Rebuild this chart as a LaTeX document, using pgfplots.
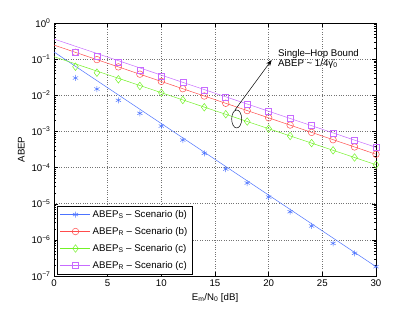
\documentclass[border=0pt]{standalone}
\usepackage{pgfplots}
\pgfplotsset{compat=1.18}
\usepackage{fontspec}
\setmainfont{Liberation Sans}
\usetikzlibrary{arrows.meta}
\definecolor{cB}{rgb}{0.30,0.45,1.00}
\definecolor{cR}{rgb}{1.00,0.30,0.30}
\definecolor{cG}{rgb}{0.45,0.95,0.15}
\definecolor{cP}{rgb}{0.78,0.42,1.00}
\begin{document}
\begin{tikzpicture}[font=\fontsize{9.7}{11}\selectfont]
\begin{semilogyaxis}[
  scale only axis, width=322bp, height=253bp,
  xmin=0, xmax=30, ymin=1e-7, ymax=1,
  xtick={0,5,10,15,20,25,30},
  xticklabel style={/pgf/number format/assume math mode=true},
  ytick={1e-7,1e-6,1e-5,1e-4,1e-3,1e-2,1e-1,1},
  yticklabels={10\textsuperscript{−7},10\textsuperscript{−6},10\textsuperscript{−5},10\textsuperscript{−4},10\textsuperscript{−3},10\textsuperscript{−2},10\textsuperscript{−1},10\textsuperscript{0}},
  grid=major,
  major grid style={dotted, black!55, line width=0.5pt},
  tick style={black, line width=0.4pt},
  major tick length=4bp, minor tick length=2bp,
  axis line style={line width=0.5pt},
  xlabel={E\textsubscript{m}/N\textsubscript{0} [dB]},
  ylabel={ABEP},
  legend cell align=left,
  legend style={at={(0,0)}, anchor=south west, xshift=3bp, yshift=2bp,
    draw=black, line width=0.5pt, fill=white, inner xsep=3bp, inner ysep=2bp,
    row sep=4.5bp, font=\fontsize{9.7}{11}\selectfont},
  legend image code/.code={\draw[mark repeat=2,mark phase=2,#1] plot coordinates {(0bp,0bp)(15bp,0bp)(30bp,0bp)};},
]
% theory lines (legend carries marker)
\addplot[cB, line width=0.5pt, mark=asterisk, mark size=3bp, mark options={solid}, mark repeat=100, mark phase=100] coordinates {(0,0.158) (30,1.81e-7)};
\addlegendentry{ABEP\textsubscript{S} – Scenario (b)}
\addplot[cR, line width=0.5pt, mark=o, mark size=3.3bp, mark repeat=100, mark phase=100] coordinates {(0,0.245) (30,2.34e-4)};
\addlegendentry{ABEP\textsubscript{R} – Scenario (b)}
\addplot[cG, line width=0.5pt, mark=diamond, mark size=3.8bp, mark repeat=100, mark phase=100] coordinates {(0,0.117) (30,1.2e-4)};
\addlegendentry{ABEP\textsubscript{S} – Scenario (c)}
\addplot[cP, line width=0.5pt, mark=square, mark size=3bp, mark repeat=100, mark phase=100] coordinates {(0,0.36) (30,3.63e-4)};
\addlegendentry{ABEP\textsubscript{R} – Scenario (c)}
% simulation markers
\addplot[cB, only marks, mark=asterisk, mark size=3bp, line width=0.5pt, forget plot] coordinates {
(2,0.0301) (4,0.0149) (6,0.00726) (8,0.00317) (10,0.00141) (12,5.79e-4) (14,2.48e-4) (16,9.1e-5) (18,3.74e-5) (20,1.53e-5) (22,6.0e-6) (24,2.42e-6) (26,8.0e-7) (28,4.25e-7) (30,1.81e-7)};
\addplot[cR, only marks, mark=o, mark size=3.3bp, line width=0.5pt, forget plot] coordinates {
(2,0.1545) (4,0.0971) (6,0.0611) (8,0.0384) (10,0.0242) (12,0.0152) (14,0.00955) (16,0.00601) (18,0.00378) (20,0.00238) (22,0.00150) (24,9.4e-4) (26,5.9e-4) (28,3.72e-4) (30,2.34e-4)};
\addplot[cG, only marks, mark=diamond, mark size=3.8bp, line width=0.5pt, forget plot] coordinates {
(2,0.0618) (4,0.0422) (6,0.0277) (8,0.0181) (10,0.0118) (12,0.0074) (14,0.00465) (16,0.00299) (18,0.00188) (20,0.00119) (22,7.5e-4) (24,4.75e-4) (26,3.0e-4) (28,1.9e-4) (30,1.2e-4)};
\addplot[cP, only marks, mark=square, mark size=3bp, line width=0.5pt, forget plot] coordinates {
(2,0.16) (4,0.117) (6,0.0797) (8,0.050) (10,0.0341) (12,0.0223) (14,0.0140) (16,0.0091) (18,0.00574) (20,0.00362) (22,0.00229) (24,0.00144) (26,9.1e-4) (28,5.75e-4) (30,3.63e-4)};
% annotation
\draw[black, line width=0.5pt] (axis cs:17.02,2.21e-3) ellipse [x radius=5bp, y radius=9bp];
\draw[black, line width=0.5pt, -{Stealth[length=6bp,width=4.5bp]}] (axis cs:16.86,3.92e-3) -- (axis cs:20.28,0.0946);
\node[anchor=north west, align=left, inner sep=0pt, font=\fontsize{9.7}{10}\selectfont] at (axis cs:20.87,0.19) {Single–Hop Bound\\ABEP \textasciitilde\ 1/4γ̄\textsubscript{0}};
\end{semilogyaxis}
\path (current axis.south west) ++(-54bp,-37bp) rectangle ++(415bp,313bp);
\end{tikzpicture}
\end{document}
